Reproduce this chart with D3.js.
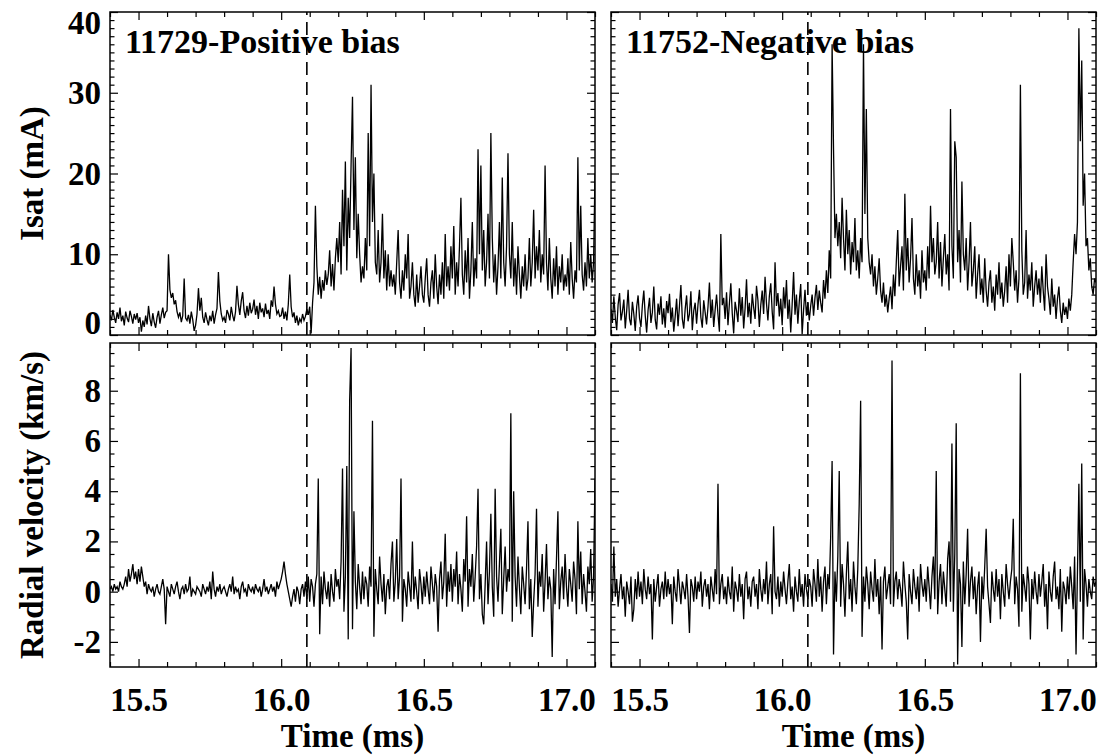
<!DOCTYPE html>
<html>
<head>
<meta charset="utf-8">
<script src="https://cdn.jsdelivr.net/npm/d3@7"></script>
<style>
  html, body { margin: 0; padding: 0; background: #fff; }
  svg { display: block; }
  text { font-family: "Liberation Serif", "Times New Roman", serif; font-weight: bold; fill: #000; }
</style>
</head>
<body>
<svg id="chart" width="1110" height="755"></svg>
<script>
// ---------------- DATA ----------------
const timeStart = 15.4;   // ms, first sample
const timeStep = 0.005;   // ms, sample spacing

const panelTitles = ["11729-Positive bias", "11752-Negative bias"];
const biasTime = 16.09;   // ms (dashed line)

const xTicks = [15.5, 16.0, 16.5, 17.0];
const xTickLabels = ["15.5", "16.0", "16.5", "17.0"];
const isatTicks = [0, 10, 20, 30, 40];
const velTicks = [-2, 0, 2, 4, 6, 8];

// Isat (mA), shot 11729 (positive bias)
const isatPos = [
 2.5,1.8,3.1,2.2,1.5,2.8,2.0,3.4,1.7,2.4,1.2,2.9,2.1,1.6,3.0,2.3,1.4,2.6,1.9,2.7,
 1.5,2.2,0.4,1.8,1.0,2.4,1.3,3.6,2.0,1.1,2.7,1.6,0.9,2.2,3.0,1.4,2.5,3.4,2.1,2.8,
 3.0,10.0,5.6,4.6,5.2,3.8,4.3,2.9,2.2,2.8,1.6,2.4,7.0,2.1,1.8,2.5,1.4,2.9,1.9,0.5,
 1.2,2.6,5.8,3.0,4.6,2.2,1.5,2.8,1.9,1.2,2.4,1.7,3.0,1.4,2.5,3.3,7.8,4.2,2.6,1.8,
 2.2,1.5,3.1,2.6,1.8,3.5,2.4,1.7,2.9,6.1,3.8,2.5,4.2,5.3,3.0,2.1,3.6,2.4,4.0,2.7,
 3.2,4.4,2.5,3.6,2.0,4.0,2.8,3.3,2.2,3.9,2.6,3.1,2.0,4.3,3.5,6.0,3.8,2.6,3.0,2.3,
 2.4,3.4,2.0,2.9,1.8,3.8,7.5,3.5,2.2,2.8,1.5,2.4,1.2,2.0,1.6,2.6,1.8,2.3,3.2,2.5,
 3.5,0.2,4.0,6.5,16.0,8.5,5.0,7.2,4.5,6.8,5.5,8.0,6.2,7.5,10.5,6.0,8.8,5.5,9.5,12.0,
 9.0,14.0,7.5,18.0,11.0,21.5,8.0,17.0,12.0,21.0,29.5,13.0,22.0,9.5,15.0,10.0,6.5,8.5,7.0,12.0,
 8.0,25.0,11.0,31.0,14.0,20.0,9.0,7.5,13.0,6.5,9.0,15.0,7.0,10.5,5.5,10.0,6.0,8.0,6.0,7.5,
 5.0,9.0,13.0,6.5,4.5,8.0,5.5,10.0,7.0,12.5,4.5,6.0,9.0,5.0,3.5,7.5,4.0,6.0,8.5,5.0,
 4.0,7.0,9.5,5.0,3.5,6.5,8.0,4.5,10.0,6.0,3.8,7.5,5.0,9.0,4.5,12.5,6.0,8.5,5.5,11.0,
 7.0,13.5,5.0,9.0,6.0,11.0,17.0,7.5,5.0,10.5,6.5,12.0,4.5,8.0,14.0,6.0,9.5,7.0,23.0,10.0,
 21.0,8.0,13.0,6.0,9.0,15.0,7.0,25.0,12.0,6.5,10.0,5.0,8.5,14.0,7.0,19.5,9.0,6.0,11.0,22.5,
 10.0,7.0,14.0,6.0,9.5,5.0,11.0,7.5,4.5,8.5,6.0,10.0,5.5,7.0,12.0,6.0,9.0,15.5,7.0,11.0,
 8.0,13.0,6.5,10.0,7.5,21.0,9.0,5.5,12.0,7.0,4.5,9.5,6.0,11.0,5.0,8.5,6.5,10.0,5.5,7.5,
 6.0,9.5,5.0,11.5,7.0,4.5,8.0,6.5,22.0,8.0,16.0,7.5,5.5,9.0,6.0,12.0,7.0,10.0,6.5,9.0,
 20.0
];

// Isat (mA), shot 11752 (negative bias)
const isatNeg = [
 3.2,1.5,4.8,2.2,0.6,3.8,5.2,1.8,2.9,4.4,0.8,3.0,5.6,2.0,1.2,4.1,2.6,0.5,3.5,4.9,
 2.1,1.0,3.7,5.5,2.4,0.3,3.1,4.6,1.5,2.8,6.0,1.9,0.7,3.9,2.5,4.8,1.3,3.3,0.9,4.2,
 2.7,5.1,1.6,3.4,0.4,2.3,4.5,1.1,3.6,6.2,2.0,0.8,3.2,4.9,1.7,2.6,5.4,0.6,3.0,4.0,
 1.4,3.8,5.6,2.2,0.9,4.3,2.8,1.3,3.5,6.5,2.1,4.4,1.0,3.1,5.0,2.5,0.4,12.5,3.7,4.6,
 2.0,5.3,1.2,3.9,6.4,2.7,0.2,4.1,3.0,1.6,5.8,2.4,4.7,0.8,3.3,6.9,2.2,4.0,1.4,5.1,
 3.4,2.0,6.1,4.3,1.0,3.7,5.5,2.6,7.2,3.9,1.8,4.8,6.4,2.9,0.7,9.0,3.6,5.2,2.3,4.5,
 1.2,5.9,3.3,6.8,2.0,4.4,0.3,3.8,7.8,2.5,5.0,1.4,4.2,6.3,0.1,3.1,5.6,2.4,4.0,1.8,
 3.6,5.0,2.4,4.6,6.2,3.1,5.5,4.0,2.8,6.8,4.5,8.0,5.2,10.5,7.0,36.0,23.0,12.0,15.0,11.0,
 14.0,9.5,17.0,12.0,8.0,15.5,10.0,13.0,7.5,11.5,9.0,14.5,8.0,10.5,7.0,12.0,9.0,36.0,15.0,28.0,
 12.0,9.0,7.5,10.0,6.0,8.5,5.0,7.0,9.5,5.5,4.0,6.5,3.5,5.0,2.8,4.5,6.0,3.2,7.5,4.8,
 9.0,13.0,6.0,8.5,11.0,5.5,17.5,8.0,12.0,6.5,9.5,14.5,7.0,5.0,10.0,6.0,8.0,4.5,10.5,6.5,
 8.0,5.5,11.0,7.0,16.0,9.0,12.0,7.5,9.0,14.0,7.0,11.5,6.0,9.5,12.5,7.5,10.0,5.5,28.0,11.0,
 7.0,24.0,22.0,9.0,13.0,6.5,19.0,10.0,8.0,12.0,5.5,9.0,14.0,6.0,8.0,11.0,4.5,7.5,10.0,5.0,
 7.0,4.0,9.5,5.5,3.5,6.5,8.0,4.0,6.0,3.0,7.5,5.0,9.0,4.5,6.5,3.5,5.5,8.5,4.0,10.0,
 6.0,12.0,9.0,5.5,8.0,4.0,7.0,31.0,10.5,5.0,6.5,13.0,4.5,7.5,5.5,9.0,3.5,6.0,8.0,5.0,
 7.0,4.0,8.5,5.5,3.0,10.0,6.0,4.5,2.5,7.0,3.5,5.0,2.0,4.5,6.0,3.0,1.5,4.0,2.5,3.5,
 2.0,4.5,3.0,5.0,9.0,12.5,10.0,14.0,38.0,24.0,34.0,16.0,20.0,11.0,12.0,8.0,9.5,6.0,5.0,7.0,
 6.5
];

// Radial velocity (km/s), shot 11729 (positive bias)
const velPos = [
 0.1,0.2,0.0,0.3,0.1,0.2,0.0,0.4,0.2,0.1,0.3,0.6,0.2,0.9,0.4,0.7,1.1,0.5,0.8,0.3,
 0.9,0.4,1.0,0.6,0.2,0.4,-0.1,0.3,0.1,0.0,0.2,-0.2,0.1,0.3,0.0,-0.1,0.2,0.5,0.1,-1.3,
 0.2,0.0,-0.2,0.3,0.1,-0.1,0.2,0.4,0.0,-0.3,0.1,0.2,-0.1,0.3,0.0,0.1,0.6,-0.2,0.1,0.0,
 -0.1,0.2,0.1,0.0,-0.2,0.3,0.1,-0.1,0.2,0.0,0.4,-0.3,0.8,0.1,-0.2,0.2,0.0,0.3,-0.1,0.1,
 0.2,0.0,-0.2,0.1,0.3,0.0,0.6,-0.1,0.2,0.0,0.1,-0.3,0.2,0.4,0.0,0.1,-0.2,0.3,0.1,0.0,
 0.2,-0.1,0.3,0.1,0.0,0.2,-0.2,0.1,0.5,0.0,0.2,-0.1,0.1,0.3,0.0,0.2,-0.2,0.4,0.1,0.3,
 0.5,0.8,1.2,0.7,0.3,0.0,-0.3,-0.6,-0.2,0.1,-0.4,0.2,0.0,-0.5,0.1,0.3,-0.2,0.4,-0.3,0.6,
 -0.4,0.5,0.2,-0.6,0.3,0.7,4.5,-1.7,0.6,-0.5,0.8,0.1,-0.3,0.4,-0.6,0.7,0.0,-0.4,0.9,0.2,
 0.5,-0.3,1.2,4.9,-0.8,0.6,5.0,-1.9,7.6,9.7,-1.5,3.2,0.4,-0.7,1.1,0.2,-0.5,0.8,-0.3,0.6,
 0.3,-0.6,1.0,0.2,6.8,-1.8,0.9,0.1,-0.5,1.4,0.3,-0.4,0.7,-0.9,0.2,0.5,-0.3,1.1,2.0,-0.4,
 0.4,2.1,-0.3,0.6,4.5,-1.2,0.5,0.1,-0.6,0.8,0.2,-0.4,2.0,-0.3,0.6,0.0,-0.7,0.9,0.3,-0.5,
 0.6,-0.2,0.8,0.1,-0.5,1.0,0.3,-0.4,0.7,0.2,-1.6,0.5,1.2,-0.3,0.4,2.3,-0.6,0.8,0.0,1.1,
 -0.4,0.9,0.2,1.6,-0.5,0.7,0.1,-0.8,1.3,0.4,3.0,-0.6,0.9,0.2,1.5,-0.4,0.6,1.8,4.1,-0.3,
 0.7,-0.9,-1.3,0.3,2.0,-0.5,0.8,3.1,0.2,-1.0,4.1,0.6,-0.4,1.1,2.5,-0.9,0.5,1.8,0.0,0.9,
 0.4,7.1,-1.2,4.0,0.6,-0.6,1.4,0.2,-0.9,1.0,0.3,-0.5,0.9,2.8,-0.7,0.5,-1.8,-0.4,0.7,3.3,
 -0.6,0.8,0.2,1.5,-0.8,0.4,1.9,-0.3,0.6,0.1,-2.6,0.9,-0.5,1.3,3.2,-0.7,0.4,1.0,-0.3,1.5,
 0.2,-0.6,0.9,0.3,-0.4,1.2,0.5,-0.9,2.8,0.1,1.6,-0.5,0.7,0.0,-0.8,1.0,0.3,1.7,-0.4,0.6,
 4.5
];

// Radial velocity (km/s), shot 11752 (negative bias)
const velNeg = [
 0.3,-0.4,1.8,-0.2,0.5,-0.6,0.1,0.7,-0.3,0.2,-1.0,0.4,0.0,-0.5,0.6,-1.2,-0.7,0.5,-0.3,0.8,
 -0.2,0.4,-0.5,0.9,0.1,-0.3,0.6,-0.1,0.3,-1.9,0.5,-0.4,0.2,0.7,-0.6,0.1,0.4,-0.3,0.8,-0.2,
 0.5,-0.1,0.3,-1.3,0.6,0.0,-0.4,0.9,0.2,-0.5,0.4,0.1,-0.3,0.7,-0.2,-1.65,0.5,0.2,-0.4,0.6,
 -0.3,0.4,0.0,0.8,-0.6,0.2,0.5,-0.2,0.3,-0.7,0.6,0.1,-0.4,0.9,-0.1,4.3,-0.5,0.3,0.7,-0.3,
 0.2,-0.5,0.6,0.0,-0.3,1.0,-0.8,0.4,0.1,-0.4,0.7,-0.2,0.3,-1.1,0.5,0.8,-0.3,0.2,-0.6,0.4,
 0.6,-0.2,0.3,-0.7,0.9,0.1,-0.4,0.5,-0.1,1.2,-0.5,0.3,0.7,-0.9,2.6,0.0,-0.3,0.6,-0.6,0.4,
 -0.2,0.8,0.1,-0.5,0.4,1.1,-0.3,0.2,-0.8,0.6,0.0,-0.4,0.9,-0.2,0.3,-0.6,0.7,0.1,-0.3,0.5,
 0.2,-0.6,0.9,0.3,-0.4,1.3,-0.2,0.6,-0.8,0.4,1.0,-0.5,0.7,0.1,2.2,5.2,-2.5,0.8,-0.4,1.4,
 4.8,-0.6,1.1,0.3,-1.0,0.7,2.0,-0.3,0.5,-0.8,1.2,0.2,-0.5,0.9,3.5,7.6,-1.8,0.6,-0.4,1.0,
 0.3,-0.7,0.8,0.1,-0.4,1.3,-0.2,0.5,-0.9,0.6,-2.3,0.4,1.0,-0.3,0.2,0.7,-0.5,9.2,-0.6,0.4,
 0.8,-0.3,0.5,0.1,-0.6,1.2,0.3,-0.4,-1.9,0.7,0.0,-0.5,0.9,0.2,-0.3,0.6,-0.8,1.1,0.3,-0.2,
 0.5,-0.4,1.0,0.2,-0.7,0.6,1.4,-0.3,4.8,-0.9,0.4,1.1,-0.5,0.8,0.1,-0.6,1.3,2.0,-0.4,5.9,
 -0.8,1.5,6.7,-2.9,0.9,0.3,-2.2,1.2,-0.5,0.7,2.5,-0.6,0.4,1.0,-0.3,0.6,-0.9,0.2,0.8,-2.0,
 0.6,-0.3,1.0,2.5,0.2,-0.5,-1.25,0.8,0.1,-0.4,0.9,-0.2,0.5,-1.1,0.7,0.0,-0.6,1.1,0.3,-0.3,
 0.4,0.9,2.9,-0.5,0.6,0.1,-1.4,8.7,-0.8,0.7,0.2,-0.4,1.0,0.3,-1.9,0.5,-0.3,0.8,0.0,-0.5,
 0.7,-0.2,0.4,1.1,-0.6,0.3,-1.5,0.8,0.0,-0.4,0.6,1.2,-0.3,0.2,-0.7,0.9,-1.6,0.4,0.1,-0.5,
 0.6,-0.3,1.0,0.2,-0.7,1.4,-2.5,0.8,4.3,-0.4,5.1,-1.9,0.9,0.3,-0.6,0.5,0.0,-0.3,0.6,0.2,
 0.4
];

// ---------------- LAYOUT ----------------
const svg = d3.select("#chart");
const cols = [{x0: 110, x1: 595}, {x0: 611, x1: 1096}];
const rows = [{y0: 12, y1: 335}, {y0: 343, y1: 667}];
const FS = 33;

const panels = [
  {c: 0, r: 0, data: isatPos, domain: [0, 40], ticks: isatTicks, minorStep: 1, yLabels: true, xLabels: false, title: panelTitles[0]},
  {c: 1, r: 0, data: isatNeg, domain: [0, 40], ticks: isatTicks, minorStep: 1, yLabels: false, xLabels: false, title: panelTitles[1]},
  {c: 0, r: 1, data: velPos, domain: [-3, 9.9], ticks: velTicks, minorStep: 0.5, yLabels: true, xLabels: true},
  {c: 1, r: 1, data: velNeg, domain: [-3, 9.9], ticks: velTicks, minorStep: 0.5, yLabels: false, xLabels: true}
];

const xDomain = [15.4, 17.1];
const xMinor = d3.range(15.4, 17.1001, 0.1).map(v => +v.toFixed(2)).filter(v => !xTicks.some(t => Math.abs(t - v) < 1e-6));

panels.forEach(p => {
  const col = cols[p.c], row = rows[p.r];
  const x = d3.scaleLinear().domain(xDomain).range([col.x0, col.x1]);
  const y = d3.scaleLinear().domain(p.domain).range([row.y1, row.y0]);
  const g = svg.append("g");

  const clipId = `clip-${p.c}-${p.r}`;
  svg.append("clipPath").attr("id", clipId).append("rect")
    .attr("x", col.x0).attr("y", row.y0).attr("width", col.x1 - col.x0).attr("height", row.y1 - row.y0);

  const line = d3.line()
    .x((d, i) => x(timeStart + i * timeStep))
    .y(d => y(d));
  g.append("path").datum(p.data)
    .attr("clip-path", `url(#${clipId})`)
    .attr("fill", "none").attr("stroke", "#000").attr("stroke-width", 1.3)
    .attr("stroke-linejoin", "miter")
    .attr("d", line);

  g.append("line")
    .attr("x1", x(biasTime)).attr("x2", x(biasTime))
    .attr("y1", y(p.domain[0])).attr("y2", y(p.domain[1]))
    .attr("stroke", "#000").attr("stroke-width", 1.6)
    .attr("stroke-dasharray", "13,7");

  const yMinor = d3.range(p.domain[0], p.domain[1] + 1e-6, p.minorStep)
    .map(v => +v.toFixed(2)).filter(v => !p.ticks.includes(v) && v > p.domain[0] + 1e-6 && v < p.domain[1] - 1e-6);

  const bottom = d3.axisBottom(x).tickValues(xTicks).tickSizeInner(-8).tickSizeOuter(0).tickPadding(21)
    .tickFormat((d, i) => p.xLabels ? xTickLabels[i] : "");
  g.append("g").attr("transform", `translate(0,${row.y1})`).call(bottom);
  g.append("g").attr("transform", `translate(0,${row.y1})`)
    .call(d3.axisBottom(x).tickValues(xMinor).tickSizeInner(-5).tickSizeOuter(0).tickFormat(""));
  g.append("g").attr("transform", `translate(0,${row.y0})`)
    .call(d3.axisTop(x).tickValues(xTicks).tickSizeInner(-8).tickSizeOuter(0).tickFormat(""));
  g.append("g").attr("transform", `translate(0,${row.y0})`)
    .call(d3.axisTop(x).tickValues(xMinor).tickSizeInner(-5).tickSizeOuter(0).tickFormat(""));
  const left = d3.axisLeft(y).tickValues(p.ticks).tickSizeInner(-8).tickSizeOuter(0).tickPadding(9)
    .tickFormat(d => p.yLabels ? String(d) : "");
  const lg = g.append("g").attr("transform", `translate(${col.x0},0)`).call(left);
  g.append("g").attr("transform", `translate(${col.x0},0)`)
    .call(d3.axisLeft(y).tickValues(yMinor).tickSizeInner(-4.5).tickSizeOuter(0).tickFormat(""));
  g.append("g").attr("transform", `translate(${col.x1},0)`)
    .call(d3.axisRight(y).tickValues(p.ticks).tickSizeInner(-8).tickSizeOuter(0).tickFormat(""));
  g.append("g").attr("transform", `translate(${col.x1},0)`)
    .call(d3.axisRight(y).tickValues(yMinor).tickSizeInner(-4.5).tickSizeOuter(0).tickFormat(""));

  lg.selectAll(".tick text").each(function(d) {
    if (d === p.domain[1]) d3.select(this).attr("dy", "0.66em");
    else if (d === p.domain[0]) d3.select(this).attr("dy", "-0.05em");
  });

  g.append("rect")
    .attr("x", col.x0).attr("y", row.y0).attr("width", col.x1 - col.x0).attr("height", row.y1 - row.y0)
    .attr("fill", "none").attr("stroke", "#000").attr("stroke-width", 1.5);

  if (p.title) {
    g.append("text").attr("x", col.x0 + 15).attr("y", row.y0 + 41)
      .style("font-size", "34px").text(p.title);
  }

  if (p.xLabels) {
    g.append("text").attr("x", (col.x0 + col.x1) / 2).attr("y", 747)
      .attr("text-anchor", "middle").style("font-size", FS + "px").text("Time (ms)");
  }
});

svg.selectAll(".domain").remove();
svg.selectAll(".tick line").attr("stroke", "#000").attr("stroke-width", 1.2);
svg.selectAll(".tick text")
  .style("font-family", '"Liberation Serif", serif')
  .style("font-weight", "bold")
  .style("font-size", FS + "px")
  .attr("fill", "#000");

svg.append("text")
  .attr("transform", `translate(43,${(rows[0].y0 + rows[0].y1) / 2}) rotate(-90)`)
  .attr("text-anchor", "middle").style("font-size", FS + "px").text("Isat (mA)");
svg.append("text")
  .attr("transform", `translate(43,${(rows[1].y0 + rows[1].y1) / 2}) rotate(-90)`)
  .attr("text-anchor", "middle").style("font-size", FS + "px").text("Radial velocity (km/s)");
</script>
</body>
</html>
